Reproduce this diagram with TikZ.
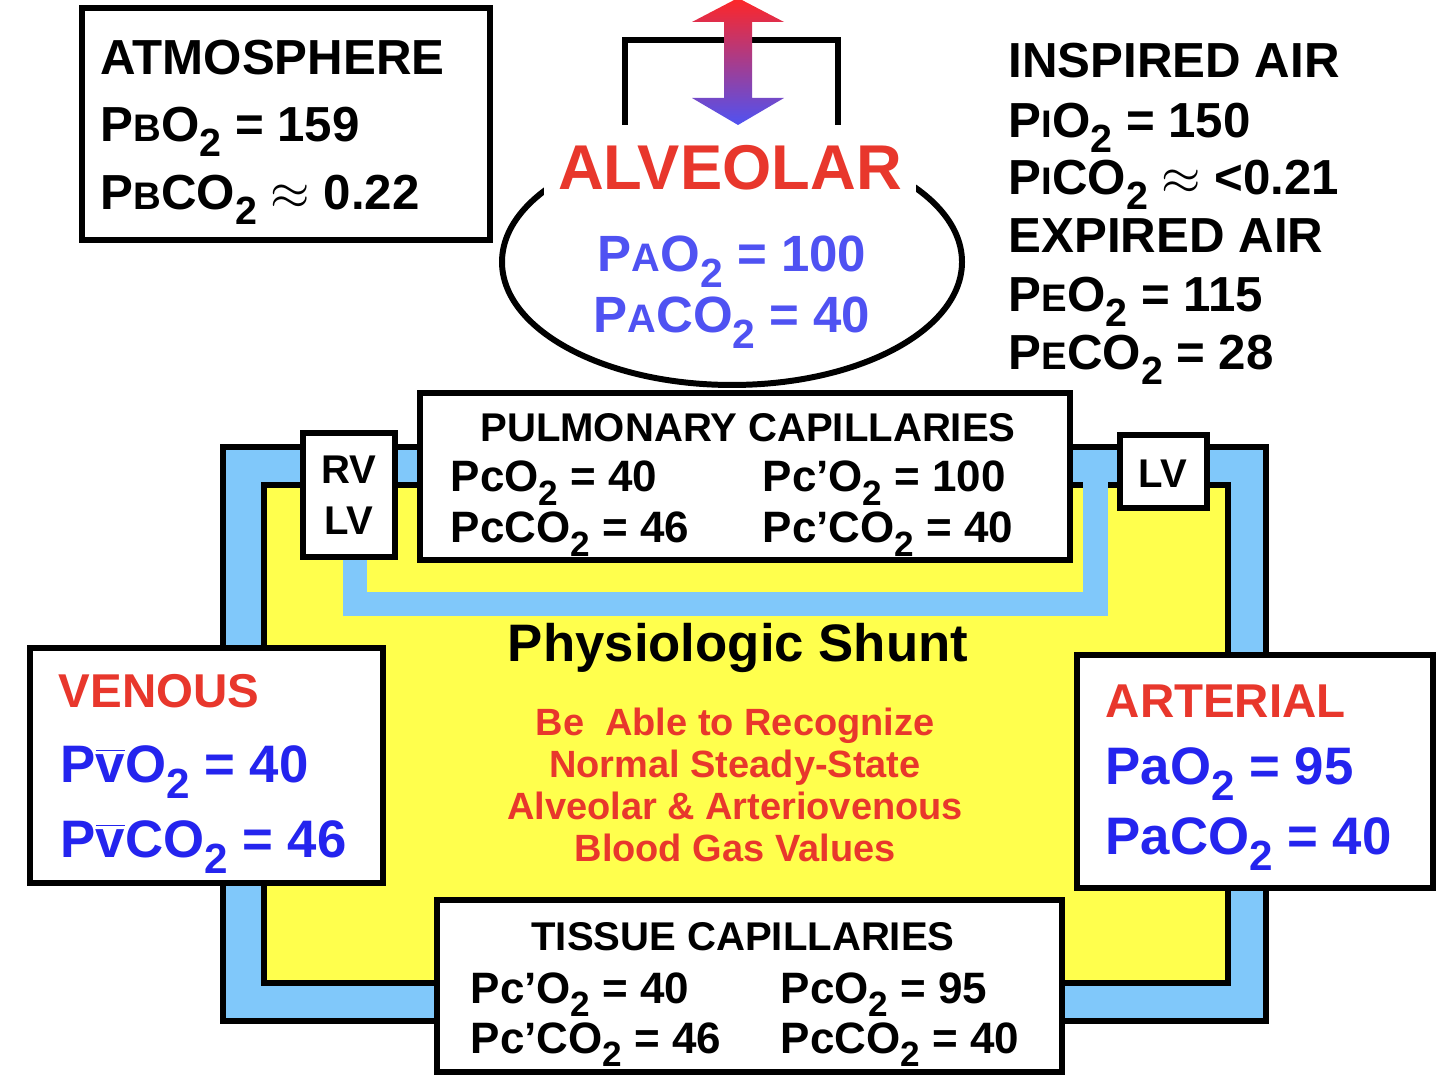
\documentclass[tikz,border=0pt]{standalone}
\usepackage{fontspec}
\usepackage{graphicx}
\setmainfont{Liberation Sans}
\definecolor{myred}{HTML}{E8372C}
\definecolor{myblue}{HTML}{2424EE}
\definecolor{alvblue}{HTML}{4F52F2}
\definecolor{ltblue}{HTML}{80C8FA}
\definecolor{myyel}{HTML}{FFFF4D}
\newcommand\two{\raisebox{-0.3em}{\scalebox{0.8}{2}}}
\newcommand\sm[1]{{\scalebox{0.78}{#1}}}
\newcommand\vb{\ensuremath{\overline{\hbox{v}}}}
\tikzset{
  bx/.style={draw=black,line width=1.7pt,fill=white},
  tx/.style={inner sep=0pt},
  fs/.style={font=\bfseries\fontsize{#1}{#1}\selectfont}
}
\begin{document}
\begin{tikzpicture}[x=0.01cm,y=-0.01cm]
\useasboundingbox (0,0) rectangle (1440,1077);
% circulation
\draw[line width=1.7pt,fill=ltblue] (223,447) rectangle (1266,1021);
\draw[line width=1.7pt,fill=myyel] (264,485) rectangle (1228,983);
\draw[ltblue,line width=7.1pt] (355,540) -- (355,604) -- (1095,604) -- (1095,470);
% boxes
\draw[bx] (82,8) rectangle (490,240);
\draw[bx] (420,393) rectangle (1070,560);
\draw[bx] (303,433) rectangle (395,557);
\draw[bx] (1120,435) rectangle (1207,508);
\draw[bx] (30,648) rectangle (383,883);
\draw[bx] (1077,655) rectangle (1433,888);
\draw[bx] (437,900) rectangle (1062,1072);
% alveolar
\draw[line width=1.7pt] (732,262) ellipse [x radius=230, y radius=123];
\draw[line width=1.7pt] (625,125) -- (625,40) -- (838,40) -- (838,125);
\shade[top color=red!85!white,bottom color=alvblue]
 (738,-2) -- (784,22) -- (752,22) -- (752,98) -- (784,98) -- (738,125) -- (692,98) -- (724,98) -- (724,22) -- (692,22) -- cycle;
\node[tx,fs=18pt,myred,fill=white,inner xsep=4pt,inner ysep=3pt,anchor=base] (alv) at (730,190) {ALVEOLAR};
\node[tx,fs=14.5pt,alvblue,anchor=base] (pao) at (732,272) {P\sm{A}O\two{} = 100};
\node[tx,fs=14.5pt,alvblue,anchor=base] (paco) at (732,333) {P\sm{A}CO\two{} = 40};
% atmosphere
\node[tx,fs=14pt,anchor=base west] (atm) at (100,75) {ATMOSPHERE};
\node[tx,fs=14pt,anchor=base west] (pbo) at (100,142) {P\sm{B}O\two{} = 159};
\node[tx,fs=14pt,anchor=base west] (pbco) at (100,210) {P\sm{B}CO\two{} $\approx$ 0.22};
% inspired
\node[tx,fs=14pt,anchor=base west] (ia) at (1008,78) {INSPIRED AIR};
\node[tx,fs=14pt,anchor=base west] (pio) at (1008,138) {P\sm{I}O\two{} = 150};
\node[tx,fs=14pt,anchor=base west] (pico) at (1008,195) {P\sm{I}CO\two{} $\approx$ <0.21};
\node[tx,fs=14pt,anchor=base west] (ea) at (1008,253) {EXPIRED AIR};
\node[tx,fs=14pt,anchor=base west] (peo) at (1008,312) {P\sm{E}O\two{} = 115};
\node[tx,fs=14pt,anchor=base west] (peco) at (1008,370) {P\sm{E}CO\two{} = 28};
% pulmonary
\node[tx,fs=11.4pt,anchor=base] (pct) at (748,442) {PULMONARY CAPILLARIES};
\node[tx,fs=12.5pt,anchor=base west] (p1) at (450,492) {PcO\two{} = 40};
\node[tx,fs=12.5pt,anchor=base west] (p2) at (450,543) {PcCO\two{} = 46};
\node[tx,fs=12.5pt,anchor=base west] (p3) at (762,492) {Pc’O\two{} = 100};
\node[tx,fs=12.5pt,anchor=base west] (p4) at (762,543) {Pc’CO\two{} = 40};
\node[tx,fs=11.4pt,anchor=base] (rv) at (349,484) {RV};
\node[tx,fs=11.4pt,anchor=base] (lv1) at (349,535) {LV};
\node[tx,fs=11.4pt,anchor=base] (lv2) at (1163,488) {LV};
% shunt
\node[tx,fs=15pt,anchor=base] (ps) at (738,662) {Physiologic Shunt};
\node[tx,fs=10.8pt,myred,anchor=base] (r1) at (735,736) {Be\ \ Able to Recognize};
\node[tx,fs=10.8pt,myred,anchor=base] (r2) at (735,778) {Normal Steady-State};
\node[tx,fs=10.8pt,myred,anchor=base] (r3) at (735,820) {Alveolar \& Arteriovenous};
\node[tx,fs=10.8pt,myred,anchor=base] (r4) at (735,862) {Blood Gas Values};
% venous
\node[tx,fs=13.5pt,myred,anchor=base west] (ven) at (58,708) {VENOUS};
\node[tx,fs=15pt,myblue,anchor=base west] (pvo) at (60,783) {P\vb O\two{} = 40};
\node[tx,fs=15pt,myblue,anchor=base west] (pvco) at (60,858) {P\vb CO\two{} = 46};
% arterial
\node[tx,fs=13.5pt,myred,anchor=base west] (art) at (1105,718) {ARTERIAL};
\node[tx,fs=15pt,myblue,anchor=base west] (pao2) at (1105,785) {PaO\two{} = 95};
\node[tx,fs=15pt,myblue,anchor=base west] (paco2) at (1105,855) {PaCO\two{} = 40};
% tissue
\node[tx,fs=11.4pt,anchor=base] (tct) at (743,950) {TISSUE CAPILLARIES};
\node[tx,fs=12.5pt,anchor=base west] (t1) at (470,1003) {Pc’O\two{} = 40};
\node[tx,fs=12.5pt,anchor=base west] (t2) at (470,1053) {Pc’CO\two{} = 46};
\node[tx,fs=12.5pt,anchor=base west] (t3) at (780,1003) {PcO\two{} = 95};
\node[tx,fs=12.5pt,anchor=base west] (t4) at (780,1053) {PcCO\two{} = 40};
\end{tikzpicture}
\end{document}
